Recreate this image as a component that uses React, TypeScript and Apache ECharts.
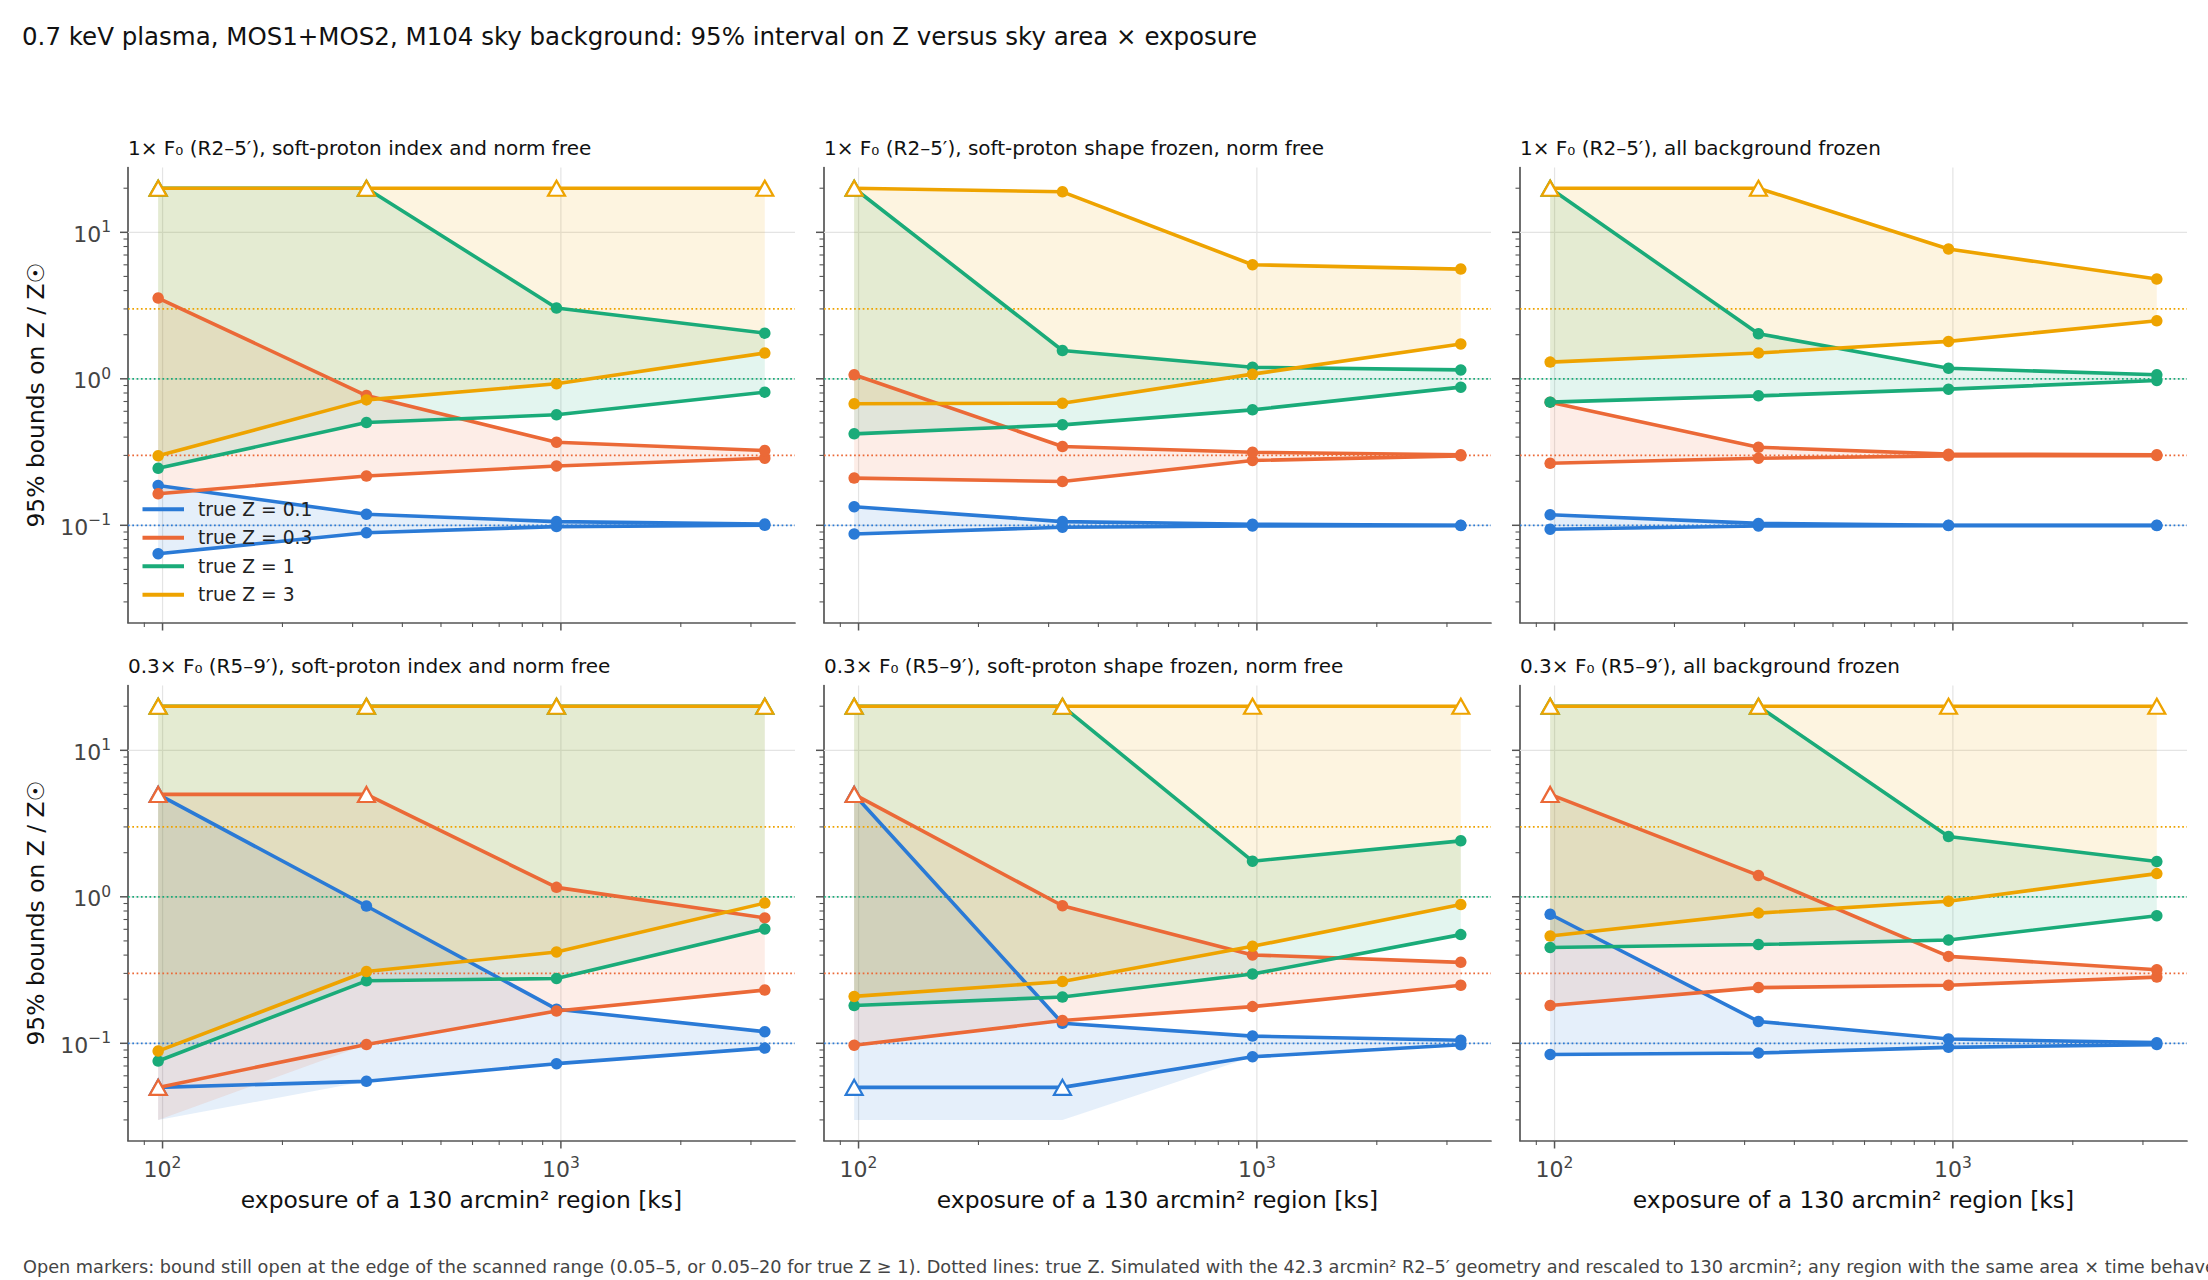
import React, { useEffect, useRef } from "react";
import * as echarts from "echarts";

const FONT = '"DejaVu Sans", "Noto Sans", sans-serif';

// ---------- data ----------
const EXPOSURE_KS = [97.5, 325, 975, 3250];
const TRUE_Z = [0.1, 0.3, 1, 3];
const SERIES_NAMES = ["true Z = 0.1", "true Z = 0.3", "true Z = 1", "true Z = 3"];
const SERIES_COLORS = ["#2a7ad6", "#eb6937", "#1aab79", "#eea300"];
const SCAN_MIN = 0.05;
const SCAN_MAX = [5, 5, 20, 20];
const FILL_FLOOR = 0.03;

const PANEL_TITLES = [
  "1× F₀ (R2–5′), soft-proton index and norm free",
  "1× F₀ (R2–5′), soft-proton shape frozen, norm free",
  "1× F₀ (R2–5′), all background frozen",
  "0.3× F₀ (R5–9′), soft-proton index and norm free",
  "0.3× F₀ (R5–9′), soft-proton shape frozen, norm free",
  "0.3× F₀ (R5–9′), all background frozen",
];

// lower / upper 95% bounds, rows: true Z = 0.1, 0.3, 1, 3
const LOW_A = [
  [0.064, 0.089, 0.098, 0.1],
  [0.164, 0.217, 0.254, 0.287],
  [0.245, 0.503, 0.568, 0.811],
  [0.298, 0.718, 0.925, 1.5],
];
const HIGH_A = [
  [0.187, 0.119, 0.106, 0.102],
  [3.56, 0.769, 0.369, 0.324],
  [20, 20, 3.04, 2.05],
  [20, 20, 20, 20],
];
const LOW_B = [
  [0.0873, 0.097, 0.099, 0.0995],
  [0.21, 0.199, 0.277, 0.298],
  [0.421, 0.485, 0.614, 0.877],
  [0.675, 0.682, 1.076, 1.73],
];
const HIGH_B = [
  [0.134, 0.106, 0.1016, 0.1],
  [1.065, 0.345, 0.315, 0.303],
  [20, 1.56, 1.2, 1.15],
  [20, 18.9, 6.01, 5.61],
];
const LOW_C = [
  [0.094, 0.099, 0.0995, 0.0995],
  [0.265, 0.287, 0.298, 0.299],
  [0.693, 0.765, 0.85, 0.974],
  [1.3, 1.5, 1.8, 2.49],
];
const HIGH_C = [
  [0.118, 0.103, 0.1, 0.1],
  [0.693, 0.341, 0.306, 0.303],
  [20, 2.03, 1.18, 1.065],
  [20, 20, 7.69, 4.8],
];
const LOW_D = [
  [0.05, 0.055, 0.0726, 0.0927],
  [0.05, 0.098, 0.166, 0.231],
  [0.0757, 0.267, 0.277, 0.603],
  [0.0885, 0.309, 0.42, 0.906],
];
const HIGH_D = [
  [5, 0.865, 0.171, 0.12],
  [5, 5, 1.16, 0.718],
  [20, 20, 20, 20],
  [20, 20, 20, 20],
];
const LOW_E = [
  [0.05, 0.05, 0.081, 0.0977],
  [0.097, 0.143, 0.178, 0.249],
  [0.181, 0.207, 0.297, 0.552],
  [0.209, 0.264, 0.459, 0.885],
];
const HIGH_E = [
  [5, 0.137, 0.112, 0.105],
  [5, 0.869, 0.401, 0.357],
  [20, 20, 1.75, 2.41],
  [20, 20, 20, 20],
];
const LOW_F = [
  [0.0839, 0.0859, 0.0938, 0.098],
  [0.181, 0.24, 0.249, 0.283],
  [0.451, 0.472, 0.507, 0.743],
  [0.54, 0.774, 0.933, 1.44],
];
const HIGH_F = [
  [0.76, 0.141, 0.107, 0.101],
  [5, 1.4, 0.392, 0.318],
  [20, 20, 2.58, 1.74],
  [20, 20, 20, 20],
];
const PANEL_LOWS = [LOW_A, LOW_B, LOW_C, LOW_D, LOW_E, LOW_F];
const PANEL_HIGHS = [HIGH_A, HIGH_B, HIGH_C, HIGH_D, HIGH_E, HIGH_F];

// ---------- axes ----------
const X_MIN = 81.9;
const X_MAX = 3870;
const Y_MIN = 0.0217;
const Y_MAX = 27.7;
const X_MAJOR = [100, 1000];
const Y_MAJOR = [0.1, 1, 10];
const X_MINOR = [90, 200, 300, 400, 500, 600, 700, 800, 900, 2000, 3000];
const Y_MINOR = [
  0.03, 0.04, 0.05, 0.06, 0.07, 0.08, 0.09,
  0.2, 0.3, 0.4, 0.5, 0.6, 0.7, 0.8, 0.9,
  2, 3, 4, 5, 6, 7, 8, 9, 20,
];

const TITLE = "0.7 keV plasma, MOS1+MOS2, M104 sky background: 95% interval on Z versus sky area × exposure";
const X_TITLE = "exposure of a 130 arcmin² region [ks]";
const Y_TITLE = "95% bounds on Z / Z☉";
const FOOTNOTE =
  "Open markers: bound still open at the edge of the scanned range (0.05–5, or 0.05–20 for true Z ≥ 1). Dotted lines: true Z. Simulated with the 42.3 arcmin² R2–5′ geometry and rescaled to 130 arcmin²; any region with the same area × time behaves the same.";

// ---------- layout ----------
const GRID_LEFTS = [128, 824, 1520];
const GRID_TOPS = [167.5, 685.5];
const GRID_W = 667;
const GRID_H = 455;
const AXIS_COLOR = "#555555";
const LABEL_COLOR = "#444444";
const GRID_COLOR = "#e4e4e4";

function rgba(hex: string, a: number) {
  const n = parseInt(hex.slice(1), 16);
  return `rgba(${(n >> 16) & 255},${(n >> 8) & 255},${n & 255},${a})`;
}

function powLabel(v: number) {
  const l = Math.log10(v);
  const e = Math.round(l);
  if (Math.abs(l - e) > 1e-6) return "";
  const s = e < 0 ? "−" + -e : String(e);
  return `{b|10}{s|${s}}`;
}

const labelRich = {
  b: { fontSize: 22, fontFamily: FONT, color: LABEL_COLOR, lineHeight: 26, verticalAlign: "bottom" },
  s: { fontSize: 15.5, fontFamily: FONT, color: LABEL_COLOR, lineHeight: 15.5, verticalAlign: "top" },
};

function buildOption() {
  const grids: any[] = [];
  const xAxes: any[] = [];
  const yAxes: any[] = [];
  const series: any[] = [];
  const graphics: any[] = [];

  graphics.push({
    type: "text",
    x: 22,
    y: 36.5,
    style: { text: TITLE, fontSize: 24.5, fontFamily: FONT, fill: "#111", textVerticalAlign: "middle", verticalAlign: "middle" },
  });
  graphics.push({
    type: "text",
    x: 23,
    y: 1266.5,
    style: { text: FOOTNOTE, fontSize: 17.7, fontFamily: FONT, fill: "#444", textVerticalAlign: "middle", verticalAlign: "middle" },
  });

  for (let p = 0; p < 6; p++) {
    const row = Math.floor(p / 3);
    const col = p % 3;
    const left = GRID_LEFTS[col];
    const top = GRID_TOPS[row];
    grids.push({ left, top, width: GRID_W, height: GRID_H, containLabel: false, outerBoundsMode: "none" });

    xAxes.push({
      type: "log",
      logBase: 10,
      gridIndex: p,
      min: X_MIN,
      max: X_MAX,
      axisLine: { show: true, onZero: false, lineStyle: { color: AXIS_COLOR, width: 1.7 } },
      axisTick: { show: false },
      minorTick: { show: false },
      splitLine: { show: false },
      axisLabel:
        row === 1
          ? { show: true, margin: 14, formatter: powLabel, rich: labelRich }
          : { show: false },
    });
    yAxes.push({
      type: "log",
      logBase: 10,
      gridIndex: p,
      min: Y_MIN,
      max: Y_MAX,
      axisLine: { show: true, onZero: false, lineStyle: { color: AXIS_COLOR, width: 1.7 } },
      axisTick: { show: false },
      minorTick: { show: false },
      splitLine: { show: false },
      axisLabel:
        col === 0
          ? { show: true, margin: 17, formatter: powLabel, rich: labelRich }
          : { show: false },
    });

    graphics.push({
      type: "text",
      x: left,
      y: top - 20,
      style: { text: PANEL_TITLES[p], fontSize: 20, fontFamily: FONT, fill: "#111", textVerticalAlign: "middle", verticalAlign: "middle" },
    });
    if (row === 1) {
      graphics.push({
        type: "text",
        x: left + GRID_W / 2,
        y: 1200,
        style: { text: X_TITLE, fontSize: 23.4, fontFamily: FONT, fill: "#111", textAlign: "center", textVerticalAlign: "middle", verticalAlign: "middle" },
      });
    }
    if (col === 0) {
      graphics.push({
        type: "text",
        x: 36,
        y: top + GRID_H / 2,
        rotation: Math.PI / 2,
        style: { text: Y_TITLE, fontSize: 23.4, fontFamily: FONT, fill: "#111", textAlign: "center", textVerticalAlign: "middle", verticalAlign: "middle" },
      });
    }

    const base = { coordinateSystem: "cartesian2d", xAxisIndex: p, yAxisIndex: p, silent: true, animation: false, clip: false, data: [[EXPOSURE_KS[0], 1]] };

    // gridlines
    series.push({
      ...base,
      type: "custom",
      z: 1,
      renderItem: (_params: any, api: any) => {
        const children: any[] = [];
        X_MAJOR.forEach((v) => {
          const a = api.coord([v, Y_MIN]);
          const b = api.coord([v, Y_MAX]);
          children.push({ type: "line", shape: { x1: a[0], y1: a[1], x2: b[0], y2: b[1] }, style: { stroke: GRID_COLOR, lineWidth: 1.2 } });
        });
        Y_MAJOR.forEach((v) => {
          const a = api.coord([X_MIN, v]);
          const b = api.coord([X_MAX, v]);
          children.push({ type: "line", shape: { x1: a[0], y1: a[1], x2: b[0], y2: b[1] }, style: { stroke: GRID_COLOR, lineWidth: 1.2 } });
        });
        return { type: "group", children };
      },
    });

    // shaded intervals
    const lows = PANEL_LOWS[p];
    const highs = PANEL_HIGHS[p];
    series.push({
      ...base,
      type: "custom",
      z: 2,
      renderItem: (_params: any, api: any) => {
        const children = TRUE_Z.map((_z, k) => {
          const pts: number[][] = [];
          EXPOSURE_KS.forEach((x, i) => {
            const lo = lows[k][i] <= SCAN_MIN ? FILL_FLOOR : lows[k][i];
            pts.push(api.coord([x, lo]));
          });
          for (let i = EXPOSURE_KS.length - 1; i >= 0; i--) pts.push(api.coord([EXPOSURE_KS[i], highs[k][i]]));
          return { type: "polygon", shape: { points: pts }, style: { fill: rgba(SERIES_COLORS[k], 0.12), stroke: null } };
        });
        return { type: "group", children };
      },
    });

    // dotted true-Z lines
    series.push({
      ...base,
      type: "custom",
      z: 3,
      renderItem: (_params: any, api: any) => {
        const children = TRUE_Z.map((z, k) => {
          const a = api.coord([X_MIN, z]);
          const b = api.coord([X_MAX, z]);
          return {
            type: "line",
            shape: { x1: a[0], y1: a[1], x2: b[0], y2: b[1] },
            style: { stroke: SERIES_COLORS[k], lineWidth: 1.7, lineDash: [1.7, 2.6], lineCap: "butt" },
          };
        });
        return { type: "group", children };
      },
    });

    // bound lines
    TRUE_Z.forEach((_z, k) => {
      const c = SERIES_COLORS[k];
      [lows[k], highs[k]].forEach((vals, bi) => {
        const isHigh = bi === 1;
        series.push({
          type: "line",
          name: SERIES_NAMES[k],
          xAxisIndex: p,
          yAxisIndex: p,
          z: 10 + k * 2 + bi,
          silent: true,
          animation: false,
          emphasis: { disabled: true },
          symbol: "circle",
          symbolSize: 11.5,
          showSymbol: true,
          lineStyle: { color: c, width: 3.6 },
          itemStyle: { color: c },
          data: EXPOSURE_KS.map((x, i) => {
            const v = vals[i];
            const open = isHigh ? v >= SCAN_MAX[k] : v <= SCAN_MIN;
            return open
              ? { value: [x, v], symbol: "triangle", symbolSize: [17, 15], itemStyle: { color: "#ffffff", borderColor: c, borderWidth: 2.2 } }
              : { value: [x, v] };
          }),
        });
      });
    });

    // ticks
    series.push({
      ...base,
      type: "custom",
      z: 30,
      renderItem: (_params: any, api: any) => {
        const children: any[] = [];
        const yTick = (v: number, len: number, w: number) => {
          const a = api.coord([X_MIN, v]);
          children.push({ type: "line", shape: { x1: a[0] - len, y1: a[1], x2: a[0], y2: a[1] }, style: { stroke: AXIS_COLOR, lineWidth: w } });
        };
        const xTick = (v: number, len: number, w: number) => {
          const a = api.coord([v, Y_MIN]);
          children.push({ type: "line", shape: { x1: a[0], y1: a[1], x2: a[0], y2: a[1] + len }, style: { stroke: AXIS_COLOR, lineWidth: w } });
        };
        Y_MAJOR.forEach((v) => yTick(v, 8, 1.5));
        Y_MINOR.forEach((v) => yTick(v, 4.5, 1.1));
        X_MAJOR.forEach((v) => xTick(v, 8, 1.5));
        X_MINOR.forEach((v) => xTick(v, 4.5, 1.1));
        return { type: "group", children };
      },
    });
  }

  return {
    animation: false,
    backgroundColor: "#ffffff",
    textStyle: { fontFamily: FONT },
    grid: grids,
    xAxis: xAxes,
    yAxis: yAxes,
    legend: {
      data: SERIES_NAMES,
      orient: "vertical",
      left: 142.5,
      top: 499.3,
      padding: 0,
      itemWidth: 41.5,
      itemHeight: 4,
      itemGap: 8.5,
      icon: "rect",
      selectedMode: false,
      z: 100,
      textStyle: { fontSize: 18.7, fontFamily: FONT, color: "#222", lineHeight: 20, padding: [0, 0, 0, 9] },
    },
    graphic: graphics,
    series,
  };
}

export default function App() {
  const ref = useRef<HTMLDivElement>(null);
  useEffect(() => {
    if (!ref.current) return;
    const chart = echarts.init(ref.current, null, { renderer: "svg" });
    chart.setOption(buildOption() as any);
    return () => chart.dispose();
  }, []);
  return (
    <div
      ref={ref}
      style={{ position: "absolute", left: 0, top: 0, width: 2208, height: 1280, background: "#fff" }}
    />
  );
}
